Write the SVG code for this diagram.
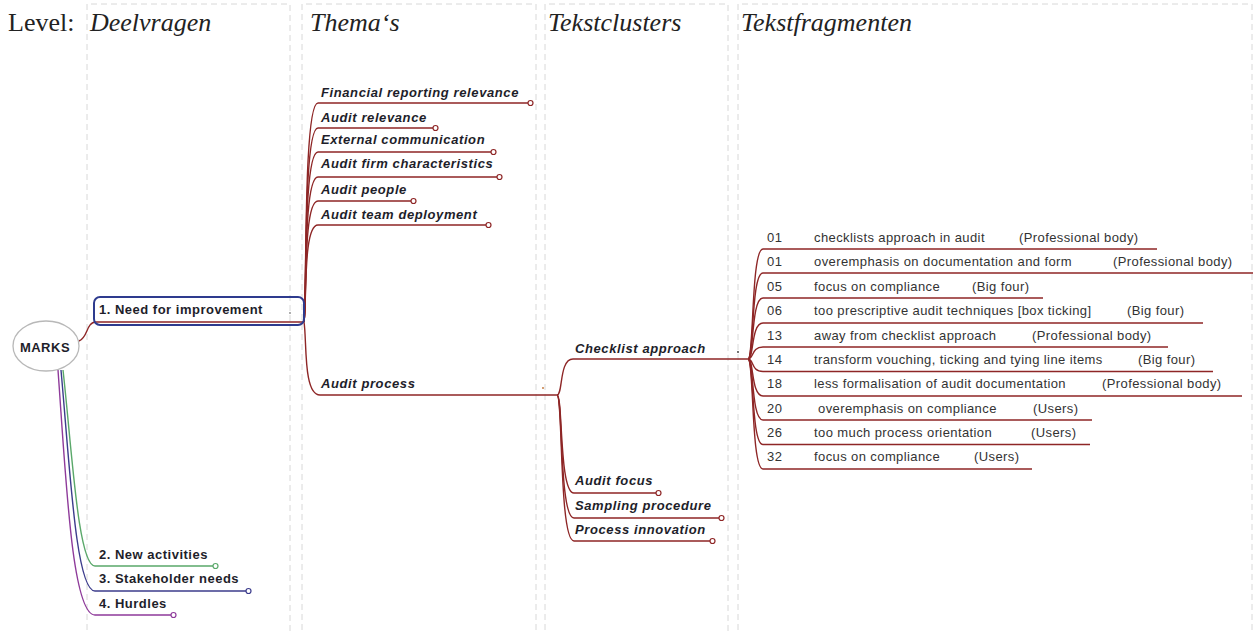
<svg xmlns="http://www.w3.org/2000/svg" width="1258" height="634" viewBox="0 0 1258 634">
<style>
.col{fill:none;stroke:#d8d8d8;stroke-width:1;stroke-dasharray:6,4}
.hdr{font-family:"Liberation Serif","Times New Roman",serif;font-size:26px;fill:#222}
.it{font-style:italic}
.lvl{font-family:"Liberation Sans",Arial,sans-serif;font-weight:bold;font-size:13px;letter-spacing:0.5px;fill:#1e1e2a}
.th{font-family:"Liberation Sans",Arial,sans-serif;font-weight:bold;font-style:italic;font-size:13px;letter-spacing:0.6px;fill:#1e1e2a}
.fr{font-family:"Liberation Sans",Arial,sans-serif;font-size:13px;letter-spacing:0.4px;fill:#333}
.red{fill:none;stroke:#8e2626;stroke-width:1.4}
.end{fill:#fff;stroke-width:1.2}
</style>
<rect width="1258" height="634" fill="#fff"/>
<g id="columns">
<path class="col" d="M87,640 V4 H290 V640"/>
<path class="col" d="M302,640 V4 H536 V640"/>
<path class="col" d="M545,640 V4 H728 V640"/>
<path class="col" d="M738,640 V4 H1252 V640"/>
</g>
<g id="headers">
<text class="hdr" x="8" y="31">Level:</text>
<text class="hdr it" x="90" y="31">Deelvragen</text>
<text class="hdr it" x="310" y="31">Thema‘s</text>
<text class="hdr it" x="548" y="31">Tekstclusters</text>
<text class="hdr it" x="741" y="31">Tekstfragmenten</text>
</g>
<g id="connectors">
<path class="red" d="M79,341 C88,338 86,322 96,322 L304,322"/>
<path fill="none" stroke="#5aa86a" stroke-width="1.4" d="M63,370 C72,450 78,566 95,566 L213,566"/>
<path fill="none" stroke="#3c3c8c" stroke-width="1.4" d="M61,370 C70,470 76,591 95,591 L246,591"/>
<path fill="none" stroke="#8e3a9a" stroke-width="1.4" d="M58,370 C66,480 72,615 95,615 L171,615"/>
<circle class="end" cx="215.5" cy="566" r="2.5" stroke="#5aa86a"/>
<circle class="end" cx="248.5" cy="591" r="2.5" stroke="#3c3c8c"/>
<circle class="end" cx="173.5" cy="615" r="2.5" stroke="#8e3a9a"/>
<path class="red" d="M304,322 C307,300 303,103 318,103 L528,103"/>
<path class="red" d="M304,322 C307,300 303,128 318,128 L433,128"/>
<path class="red" d="M304,322 C307,300 303,152 318,152 L491,152"/>
<path class="red" d="M304,322 C307,300 303,177 318,177 L497,177"/>
<path class="red" d="M304,322 C307,300 303,201 318,201 L411,201"/>
<path class="red" d="M304,322 C307,300 303,225 318,225 L486,225"/>
<circle class="end" cx="530.5" cy="103" r="2.5" stroke="#8e2626"/>
<circle class="end" cx="435.5" cy="128" r="2.5" stroke="#8e2626"/>
<circle class="end" cx="493.5" cy="152" r="2.5" stroke="#8e2626"/>
<circle class="end" cx="499.5" cy="177" r="2.5" stroke="#8e2626"/>
<circle class="end" cx="413.5" cy="201" r="2.5" stroke="#8e2626"/>
<circle class="end" cx="488.5" cy="225" r="2.5" stroke="#8e2626"/>
<path class="red" d="M304,322 C307,340 303,395 320,395 L557,395"/>
<path class="red" d="M557,395 C563,395 559,359 573,359 L748,359"/>
<path class="red" d="M557,395 C563,395 559,493 574,493 L656,493"/>
<path class="red" d="M557,395 C563,395 559,518 574,518 L719,518"/>
<path class="red" d="M557,395 C563,395 559,541 574,541 L710,541"/>
<circle class="end" cx="658.5" cy="493" r="2.5" stroke="#8e2626"/>
<circle class="end" cx="721.5" cy="518" r="2.5" stroke="#8e2626"/>
<circle class="end" cx="712.5" cy="541" r="2.5" stroke="#8e2626"/>
<path class="red" d="M748,359 C754,359 751,249 763,249 L1157,249"/>
<path class="red" d="M748,359 C754,359 751,273 763,273 L1253,273"/>
<path class="red" d="M748,359 C754,359 751,298 763,298 L1043,298"/>
<path class="red" d="M748,359 C754,359 751,323 763,323 L1203,323"/>
<path class="red" d="M748,359 C754,359 751,347 763,347 L1168,347"/>
<path class="red" d="M748,359 C754,359 751,371.5 763,371.5 L1213,371.5"/>
<path class="red" d="M748,359 C754,359 751,396 763,396 L1242,396"/>
<path class="red" d="M748,359 C754,359 751,420 763,420 L1092,420"/>
<path class="red" d="M748,359 C754,359 751,444.5 763,444.5 L1090,444.5"/>
<path class="red" d="M748,359 C754,359 751,469 763,469 L1032,469"/>
<circle cx="290" cy="313" r="0.9" fill="#888"/>
<circle cx="543" cy="388" r="0.9" fill="#c07030"/>
<circle cx="738" cy="352" r="0.9" fill="#333"/>
</g>
<g id="marks">
<ellipse cx="46" cy="346" rx="33" ry="25" fill="#fff" stroke="#b8b8b8" stroke-width="1.3"/>
<text class="lvl" x="45" y="352" text-anchor="middle">MARKS</text>
</g>
<g id="n1">
<rect x="94" y="297" width="210" height="28" rx="6" fill="none" stroke="#2e3b8e" stroke-width="2"/>
<text class="lvl" x="99" y="314">1. Need for improvement</text>
</g>
<g id="n2"><text class="lvl" x="99" y="559">2. New activities</text></g>
<g id="n3"><text class="lvl" x="99" y="583">3. Stakeholder needs</text></g>
<g id="n4"><text class="lvl" x="99" y="608">4. Hurdles</text></g>
<g id="t1"><text class="th" x="321" y="97">Financial reporting relevance</text></g>
<g id="t2"><text class="th" x="321" y="122">Audit relevance</text></g>
<g id="t3"><text class="th" x="321" y="144">External communication</text></g>
<g id="t4"><text class="th" x="321" y="168">Audit firm characteristics</text></g>
<g id="t5"><text class="th" x="321" y="194">Audit people</text></g>
<g id="t6"><text class="th" x="321" y="219">Audit team deployment</text></g>
<g id="t7"><text class="th" x="321" y="388">Audit process</text></g>
<g id="c1"><text class="th" x="575" y="353">Checklist approach</text></g>
<g id="c2"><text class="th" x="575" y="485">Audit focus</text></g>
<g id="c3"><text class="th" x="575" y="510">Sampling procedure</text></g>
<g id="c4"><text class="th" x="575" y="534">Process innovation</text></g>
<g id="f1"><text class="fr" x="767" y="242">01</text><text class="fr" x="814" y="242">checklists approach in audit</text><text class="fr" x="1019" y="242">(Professional body)</text></g>
<g id="f2"><text class="fr" x="767" y="266">01</text><text class="fr" x="814" y="266">overemphasis on documentation and form</text><text class="fr" x="1113" y="266">(Professional body)</text></g>
<g id="f3"><text class="fr" x="767" y="291">05</text><text class="fr" x="814" y="291">focus on compliance</text><text class="fr" x="972" y="291">(Big four)</text></g>
<g id="f4"><text class="fr" x="767" y="315">06</text><text class="fr" x="814" y="315">too prescriptive audit techniques [box ticking]</text><text class="fr" x="1127" y="315">(Big four)</text></g>
<g id="f5"><text class="fr" x="767" y="340">13</text><text class="fr" x="814" y="340">away from checklist approach</text><text class="fr" x="1032" y="340">(Professional body)</text></g>
<g id="f6"><text class="fr" x="767" y="364">14</text><text class="fr" x="814" y="364">transform vouching, ticking and tying line items</text><text class="fr" x="1138" y="364">(Big four)</text></g>
<g id="f7"><text class="fr" x="767" y="388">18</text><text class="fr" x="814" y="388">less formalisation of audit documentation</text><text class="fr" x="1102" y="388">(Professional body)</text></g>
<g id="f8"><text class="fr" x="767" y="413">20</text><text class="fr" x="818" y="413">overemphasis on compliance</text><text class="fr" x="1033" y="413">(Users)</text></g>
<g id="f9"><text class="fr" x="767" y="437">26</text><text class="fr" x="814" y="437">too much process orientation</text><text class="fr" x="1031" y="437">(Users)</text></g>
<g id="f10"><text class="fr" x="767" y="461">32</text><text class="fr" x="814" y="461">focus on compliance</text><text class="fr" x="974" y="461">(Users)</text></g>
</svg>
